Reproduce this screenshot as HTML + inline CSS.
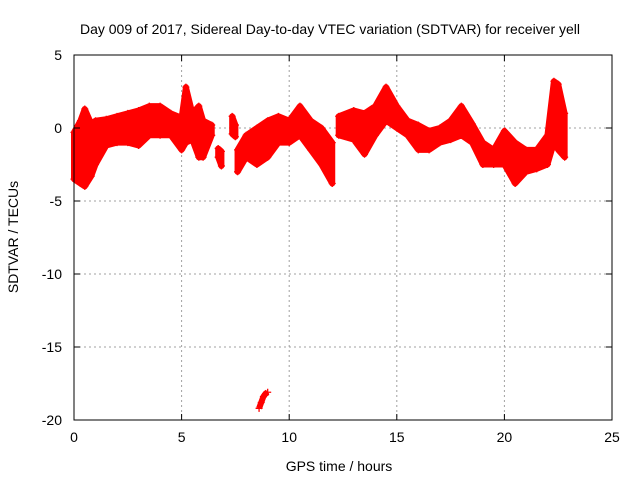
<!DOCTYPE html>
<html><head><meta charset="utf-8"><style>
body{margin:0;background:#fff}
svg text{font-family:"Liberation Sans",sans-serif;font-size:14px;fill:#000}
</style></head><body>
<svg width="640" height="480" xmlns="http://www.w3.org/2000/svg">
<g id="grid"></g>
<g id="marks"></g>
<rect x="74" y="55" width="538" height="365" fill="none" stroke="#000"/>
<g id="ticks"></g>
<text x="330" y="34" text-anchor="middle">Day 009 of 2017, Sidereal Day-to-day VTEC variation (SDTVAR) for receiver yell</text>
<text x="339" y="471" text-anchor="middle">GPS time / hours</text>
<text x="18" y="237" text-anchor="middle" transform="rotate(-90 18 237)">SDTVAR / TECUs</text>
</svg>
<script>
const xTicks=[0,5,10,15,20,25];
const yTicks=[5,0,-5,-10,-15,-20];
const segA_t=[0,0.3,0.5,0.8,1.0,1.5,2.0,2.5,3.0,3.5,4.0,4.5,5.0,5.2,5.5,5.8,6.0,6.4];
const segA_lo=[-3.5,-3.8,-4.0,-3.3,-2.5,-1.2,-1.0,-1.0,-1.2,-0.5,-0.5,-0.5,-1.5,-1.0,-0.8,-2.0,-2.0,-0.5];
const segA_hi=[-0.3,0.5,1.3,0.3,0.5,0.6,0.8,1.0,1.2,1.5,1.5,1.0,0.7,2.8,1.0,1.5,0.5,0.2];
const segB_t=[7.6,8.0,8.5,9.0,9.5,10.0,10.5,11.0,11.5,12.0];
const segB_lo=[-3.0,-2.0,-2.5,-2.0,-1.0,-1.0,-0.5,-1.5,-2.5,-3.8];
const segB_hi=[-1.5,-0.5,0.0,0.5,0.8,0.5,1.5,0.5,0.0,-1.0];
const segC_t=[12.3,13.0,13.5,14.0,14.5,15.0,15.5,16.0,16.5,17.0,17.5,18.0,18.5,19.0,19.5,20.0,20.5,21.0,21.5,22.0,22.3,22.5,22.8];
const segC_lo=[-0.5,-0.8,-1.8,-0.5,0.5,0.0,-0.5,-1.5,-1.5,-1.0,-0.8,-0.5,-1.0,-2.5,-2.5,-2.5,-3.8,-3.0,-2.8,-2.5,-1.0,-1.5,-2.0];
const segC_hi=[0.8,1.2,1.0,1.5,2.8,1.5,0.5,0.2,-0.2,0.0,0.5,1.5,0.3,-1.0,-1.5,-0.2,-1.0,-1.5,-1.5,-0.5,3.2,3.0,1.0];
const blob1_t=[6.7,6.85];
const blob1_lo=[-2.0,-2.6];
const blob1_hi=[-1.4,-1.6];
const blob2_t=[7.35,7.5];
const blob2_lo=[-0.4,-0.6];
const blob2_hi=[0.8,0.2];
const out_t=[8.6,8.7,8.8,8.9,9.0];
const out_v=[-19.2,-18.8,-18.4,-18.2,-18.1];

const X=t=>74+t*538/25, Y=v=>128-v*14.6;
const NS="http://www.w3.org/2000/svg";
function mk(tag,parent,attrs){const e=document.createElementNS(NS,tag);for(const k in attrs)e.setAttribute(k,attrs[k]);parent.appendChild(e);return e;}
const grid=document.getElementById('grid'),ticks=document.getElementById('ticks'),marks=document.getElementById('marks');
xTicks.forEach(t=>{
 if(t>0&&t<25){const l=mk('line',grid,{x1:X(t),x2:X(t),y1:55,y2:420,stroke:'#a0a0a0','stroke-dasharray':'2,3'});
 
 }
 mk('line',ticks,{x1:X(t),x2:X(t),y1:420,y2:414,stroke:'#000'});
 mk('line',ticks,{x1:X(t),x2:X(t),y1:55,y2:61,stroke:'#000'});
 const tx=mk('text',ticks,{x:X(t),y:442,'text-anchor':'middle'});tx.textContent=t;
 
 
});
yTicks.forEach(v=>{
 if(v<5&&v>-20){const l=mk('line',grid,{x1:74,x2:612,y1:Y(v),y2:Y(v),stroke:'#a0a0a0','stroke-dasharray':'2,3'});
 
 }
 mk('line',ticks,{x1:74,x2:80,y1:Y(v),y2:Y(v),stroke:'#000'});
 mk('line',ticks,{x1:612,x2:606,y1:Y(v),y2:Y(v),stroke:'#000'});
 const tx=mk('text',ticks,{x:62,y:Y(v)+5,'text-anchor':'end'});tx.textContent=v;
 
 
});
function plus(t,v){const p=mk('path',marks,{d:`M${X(t)-3.5},${Y(v)}h7M${X(t)},${Y(v)-3.5}v7`,stroke:'#f00','stroke-width':1.3});
 
 }
function band(ts,lo,hi){
 let d='M'+ts.map((t,i)=>X(t)+','+Y(hi[i])).join('L');
 d+='L'+ts.map((t,i)=>X(t)+','+Y(lo[i])).reverse().join('L')+'Z';
 const p=mk('path',marks,{d,fill:'#f00',stroke:'#f00','stroke-width':6,'stroke-linejoin':'round'});
 
 
 ts.forEach((t,i)=>{plus(t,lo[i]);plus(t,hi[i]);});
}
band(segA_t,segA_lo,segA_hi);
band(segB_t,segB_lo,segB_hi);
band(segC_t,segC_lo,segC_hi);
band(blob1_t,blob1_lo,blob1_hi);
band(blob2_t,blob2_lo,blob2_hi);
for(let i=0;i<out_t.length;i++){plus(out_t[i],out_v[i]);}
const op=mk('path',marks,{d:'M'+out_t.map((t,i)=>X(t)+','+Y(out_v[i])).join('L'),stroke:'#f00','stroke-width':6,fill:'none'});


</script>
</body></html>
